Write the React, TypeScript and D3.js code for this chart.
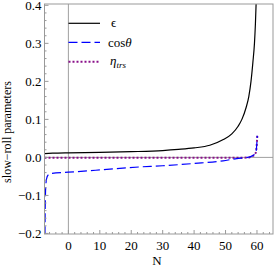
import React from 'react';
import * as d3 from 'd3';

// e-folds N and the slow-roll curves
const epsN = [-7.6, -5, 0, 10, 20, 30, 35, 40, 45, 49.3, 52, 54, 55.2, 56.5, 57.4, 58.1, 58.7, 59.2, 59.5, 59.75];
const epsV = [0.010, 0.011, 0.012, 0.013, 0.015, 0.018, 0.021, 0.025, 0.032, 0.047, 0.062, 0.082, 0.1, 0.13, 0.16, 0.2, 0.25, 0.3, 0.35, 0.41];

const cosN = [-7.45, -7.4, -7.3, -7.15, -6.9, -6.5, -6.0, -5.4, 0, 10, 22.8, 30, 40, 49.2, 53.6, 57, 58.5, 59.6, 59.9, 60.1];
const cosV = [-0.205, -0.15, -0.1, -0.07, -0.055, -0.047, -0.044, -0.042, -0.039, -0.033, -0.025, -0.022, -0.016, -0.009, -0.003, 0.0, 0.004, 0.012, 0.03, 0.057];

const etaN = [-7.6, 0, 20, 40, 55, 57.5, 58.5, 59.6, 59.9, 60.1];
const etaV = [-0.001, -0.001, -0.001, -0.001, -0.001, 0.0, 0.003, 0.012, 0.03, 0.057];

const xTicks = [0, 10, 20, 30, 40, 50, 60];
const yTicks = [-0.2, -0.1, 0.0, 0.1, 0.2, 0.3, 0.4];

const W = 274;
const H = 267;
const left = 44.5;
const right = 273;
const top = 4;
const bottom = 234;

const App = () => {
  const x = d3.scaleLinear().domain([-7.6, 65.1]).range([left, right]);
  const y = d3.scaleLinear().domain([-0.2015, 0.4035]).range([bottom, top]);

  const line = d3
    .line<[number, number]>()
    .x((d) => x(d[0]))
    .y((d) => y(d[1]))
    .curve(d3.curveMonotoneX);

  const zip = (a: number[], b: number[]) => a.map((v, i) => [v, b[i]] as [number, number]);

  const xMinor = d3.range(-6, 65, 2).filter((v) => v % 10 !== 0);
  const yMinor = d3.range(-0.2, 0.401, 0.02).filter((v) => Math.abs(Math.round(v * 10) - v * 10) > 0.01);

  const font = '"Liberation Serif", "DejaVu Serif", serif';

  return (
    <svg width={W} height={H} style={{ position: 'absolute', left: 0, top: 0, background: '#fff' }} fontFamily={font}>
      <defs>
        <clipPath id="plot">
          <rect x={left} y={top} width={right - left} height={bottom - top} />
        </clipPath>
      </defs>

      {/* zero axes */}
      <line x1={x(0)} x2={x(0)} y1={top} y2={bottom} stroke="#a0a0a0" strokeWidth={1} />
      <line x1={left} x2={right} y1={y(0)} y2={y(0)} stroke="#a0a0a0" strokeWidth={1} />

      <g clipPath="url(#plot)" fill="none">
        <path d={line(zip(epsN, epsV)) ?? ''} stroke="#000" strokeWidth={1.2} />
        <path d={line(zip(etaN, etaV)) ?? ''} stroke="#8a108a" strokeWidth={2} strokeDasharray="2,2" />
        <path d={line(zip(cosN, cosV)) ?? ''} stroke="#0000ff" strokeWidth={1.2} strokeDasharray="9,4" />
      </g>

      {/* frame */}
      <rect x={left} y={top} width={right - left} height={bottom - top} fill="none" stroke="#999" strokeWidth={1} />

      {/* ticks */}
      {xTicks.map((t) => (
        <g key={'x' + t}>
          <line x1={x(t)} x2={x(t)} y1={bottom} y2={bottom - 4} stroke="#999" />
          <text x={x(t)} y={bottom + 16} textAnchor="middle" fontSize={13}>
            {t}
          </text>
        </g>
      ))}
      {xMinor.map((t) => (
        <line key={'xm' + t} x1={x(t)} x2={x(t)} y1={bottom} y2={bottom - 2} stroke="#999" />
      ))}
      {yTicks.map((t) => (
        <g key={'y' + t}>
          <line x1={left} x2={left + 4} y1={y(t)} y2={y(t)} stroke="#999" />
          <text x={left - 3} y={y(t) + 4.5} textAnchor="end" fontSize={13}>
            {t < 0 ? '\u2212' + Math.abs(t).toFixed(1) : t.toFixed(1)}
          </text>
        </g>
      ))}
      {yMinor.map((t) => (
        <line key={'ym' + t} x1={left} x2={left + 2} y1={y(t)} y2={y(t)} stroke="#999" />
      ))}

      {/* axis labels */}
      <text x={157} y={265} textAnchor="middle" fontSize={13}>
        N
      </text>
      <text transform="translate(11,132) rotate(-90)" textAnchor="middle" fontSize={12}>
        slow{'\u2212'}roll parameters
      </text>

      {/* legend */}
      <line x1={68.5} x2={100} y1={23.3} y2={23.3} stroke="#000" strokeWidth={1.2} />
      <text x={111} y={27} fontSize={13}>ϵ</text>
      <line x1={68.5} x2={100} y1={42.3} y2={42.3} stroke="#0000ff" strokeWidth={1.2} strokeDasharray="9,4" />
      <text x={108} y={46.5} fontSize={13}>
        cos<tspan fontStyle="italic">θ</tspan>
      </text>
      <line x1={68.5} x2={100} y1={61.7} y2={61.7} stroke="#8a108a" strokeWidth={2} strokeDasharray="2,2" />
      <text x={110} y={65} fontSize={13}>
        <tspan fontStyle="italic">η</tspan>
        <tspan fontSize={9} fontStyle="italic" dy={3}>trs</tspan>
      </text>
    </svg>
  );
};

export default App;
